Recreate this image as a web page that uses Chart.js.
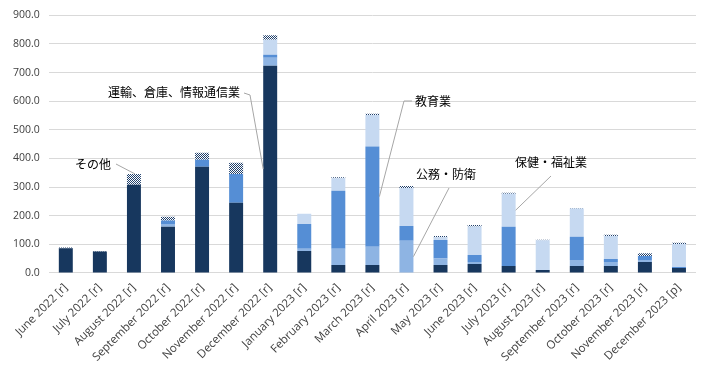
<!DOCTYPE html>
<html>
<head>
<meta charset="utf-8">
<script src="https://cdn.jsdelivr.net/npm/chart.js@4"></script>
<style>
  html, body { margin: 0; padding: 0; background: #fff; }
  #wrap { width: 710px; height: 366px; }
</style>
</head>
<body>
<div id="wrap"><canvas id="myChart" width="710" height="366"></canvas></div>
<script>
const months = ['June 2022 [r]', 'July 2022 [r]', 'August 2022 [r]', 'September 2022 [r]',
    'October 2022 [r]', 'November 2022 [r]', 'December 2022 [r]', 'January 2023 [r]',
    'February 2023 [r]', 'March 2023 [r]', 'April 2023 [r]', 'May 2023 [r]', 'June 2023 [r]',
    'July 2023 [r]', 'August 2023 [r]', 'September 2023 [r]', 'October 2023 [r]',
    'November 2023 [r]', 'December 2023 [p]'];

// values (bottom to top of each stack)
const transport = [86, 75, 308, 161, 371, 245, 724, 77, 28, 28, 0, 28, 31, 24, 10, 24, 24, 38, 17];
const publicAdmin = [0, 0, 0, 10, 0, 0, 28, 7, 56, 63, 112, 22, 7, 0, 0, 21, 14, 7, 0];
const education = [0, 0, 0, 12, 24, 101, 10, 87, 203, 351, 52, 65, 25, 137, 0, 81, 11, 14, 4];
const health = [0, 0, 0, 0, 0, 0, 53, 36, 44, 110, 133, 10, 99, 116, 104, 99, 80, 0, 80];
const other = [3, 2, 38, 13, 25, 39, 15, 0, 3, 4, 7, 4, 5, 3, 2, 2, 4, 10, 4];

const yTicks = [0, 100, 200, 300, 400, 500, 600, 700, 800, 900];

function hatch() {
    const c = document.createElement('canvas');
    c.width = 4; c.height = 4;
    const g = c.getContext('2d');
    g.fillStyle = '#ffffff';
    g.fillRect(0, 0, 4, 4);
    g.fillStyle = '#1F3F6B';
    g.fillRect(0, 0, 1, 1); g.fillRect(2, 0, 1, 1);
    g.fillRect(1, 1, 1, 1); g.fillRect(3, 1, 1, 1);
    g.fillRect(0, 2, 1, 1); g.fillRect(2, 2, 1, 1);
    g.fillRect(1, 3, 1, 1); g.fillRect(3, 3, 1, 1);
    return g.createPattern(c, 'repeat');
}

const jpFont = '"Noto Sans CJK JP", sans-serif';

// callout labels: text position is layout, the anchor comes from the bar element
const callouts = [
    { text: 'その他', ds: 4, idx: 2, tx: 75, ty: 164, knee: [116, 164], at: 'top' },
    { text: '運輸、倉庫、情報通信業', ds: 0, idx: 6, tx: 108, ty: 92, knee: [250, 95], at: 'left', pre: [244, 93] },
    { text: '教育業', ds: 2, idx: 9, tx: 415, ty: 101, knee: [404, 101], at: 'right', pre: [412, 101] },
    { text: '公務・防衛', ds: 1, idx: 10, tx: 416, ty: 174, knee: [449, 188], at: 'right' },
    { text: '保健・福祉業', ds: 3, idx: 13, tx: 515, ty: 162, knee: [551, 176], at: 'right' }
];

const calloutPlugin = {
    id: 'callouts',
    afterDatasetsDraw(chart) {
        const ctx = chart.ctx;
        ctx.save();
        ctx.font = '12px ' + jpFont;
        ctx.fillStyle = '#000';
        ctx.textBaseline = 'middle';
        ctx.textAlign = 'left';
        callouts.forEach(function(c) {
            const el = chart.getDatasetMeta(c.ds).data[c.idx];
            let ax, ay;
            if (c.at === 'top') {
                ax = el.x + 1; ay = el.y;
            } else if (c.at === 'left') {
                ax = el.x - el.width / 2; ay = (el.y + el.base) / 2;
            } else {
                ax = el.x + el.width / 2; ay = (el.y + el.base) / 2;
            }
            ctx.strokeStyle = '#a6a6a6';
            ctx.lineWidth = 1;
            ctx.beginPath();
            if (c.pre) {
                ctx.moveTo(c.pre[0], c.pre[1]);
                ctx.lineTo(c.knee[0], c.knee[1]);
            } else {
                ctx.moveTo(c.knee[0], c.knee[1]);
            }
            ctx.lineTo(ax, ay);
            ctx.stroke();
            ctx.fillText(c.text, c.tx, c.ty);
        });
        ctx.restore();
    }
};

const ctx = document.getElementById('myChart').getContext('2d');
const myChart = new Chart(ctx, {
    type: 'bar',
    data: {
        labels: months,
        datasets: [
            { label: '運輸、倉庫、情報通信業', data: transport, backgroundColor: '#17375E' },
            { label: '公務・防衛', data: publicAdmin, backgroundColor: '#8EB4E3' },
            { label: '教育業', data: education, backgroundColor: '#558ED5' },
            { label: '保健・福祉業', data: health, backgroundColor: '#C6D9F1' },
            { label: 'その他', data: other, backgroundColor: hatch() }
        ]
    },
    options: {
        responsive: false,
        animation: false,
        layout: { padding: { top: 5, right: 14, left: 4, bottom: 2 } },
        datasets: {
            bar: { categoryPercentage: 1, barPercentage: 0.41, borderWidth: 0 }
        },
        scales: {
            x: {
                stacked: true,
                grid: { display: false },
                border: { display: false },
                ticks: {
                    minRotation: 45,
                    maxRotation: 45,
                    color: '#404040',
                    font: { family: 'Open Sans, sans-serif', size: 11.5 },
                    padding: 0
                }
            },
            y: {
                stacked: true,
                min: 0,
                max: 900,
                afterBuildTicks: function(axis) {
                    axis.ticks = yTicks.map(function(v) { return { value: v }; });
                },
                grid: { color: '#d9d9d9', drawTicks: false },
                border: { display: false },
                ticks: {
                    color: '#404040',
                    padding: 9,
                    font: { family: 'Open Sans, sans-serif', size: 10.5 },
                    callback: function(v) { return Number(v).toFixed(1); }
                }
            }
        },
        plugins: {
            legend: { display: false },
            tooltip: { enabled: false }
        }
    },
    plugins: [calloutPlugin]
});
</script>
</body>
</html>
